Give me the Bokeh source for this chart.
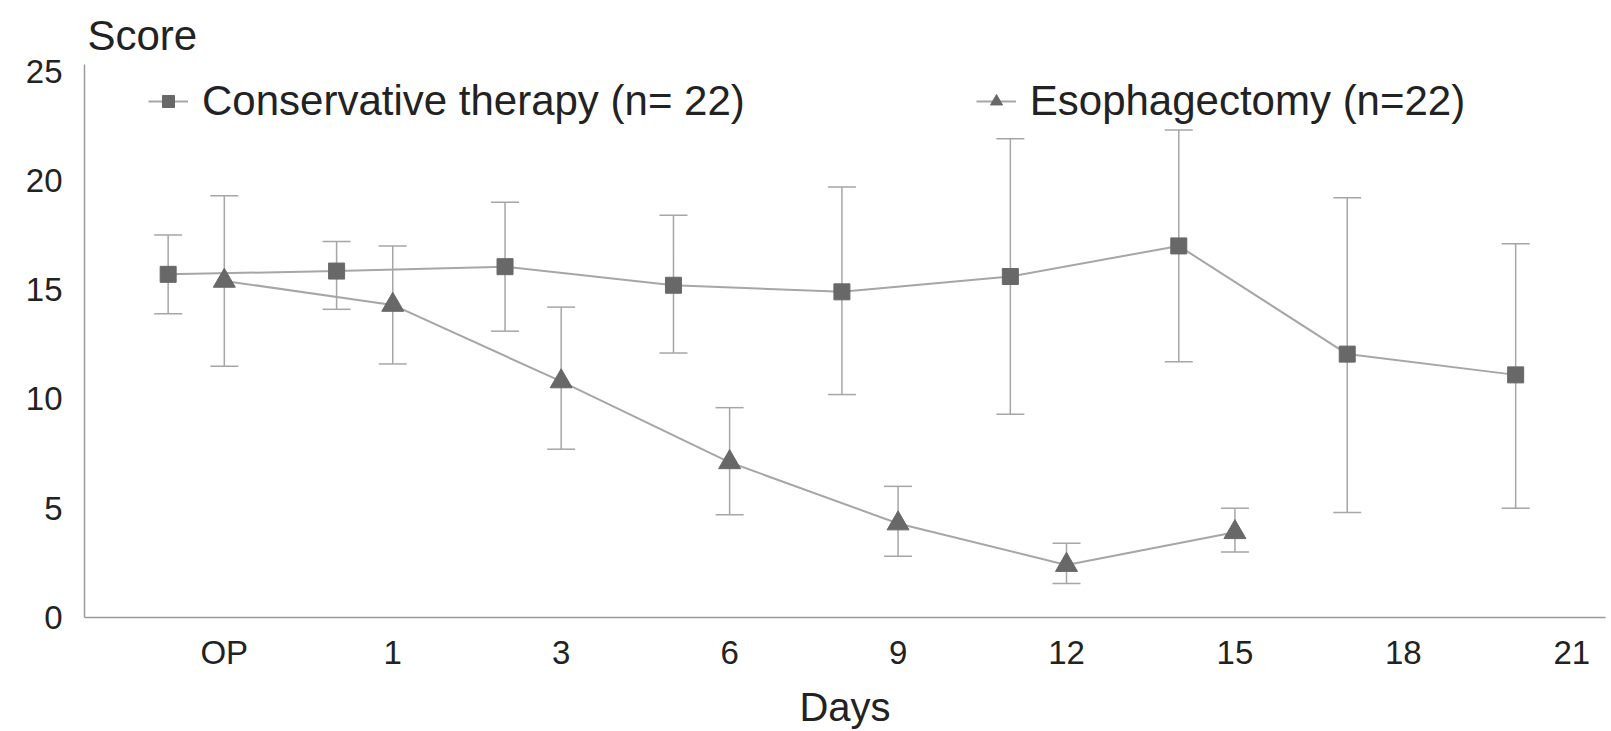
from bokeh.plotting import figure
from bokeh.models import (ColumnDataSource, Whisker, TeeHead, Legend, LegendItem,
                          FixedTicker, Title)
from bokeh.embed import file_html
from bokeh.resources import INLINE

# ---- data ----
tick_labels = ["OP", "1", "3", "6", "9", "12", "15", "18", "21"]
cons_mean = [15.7, 15.85, 16.05, 15.2, 14.9, 15.6, 17.0, 12.05, 11.1]
cons_upper = [17.5, 17.2, 19.0, 18.4, 19.7, 21.9, 22.3, 19.2, 17.1]
cons_lower = [13.9, 14.1, 13.1, 12.1, 10.2, 9.3, 11.7, 4.8, 5.0]
eso_mean = [15.4, 14.3, 10.8, 7.1, 4.3, 2.4, 3.9]
eso_upper = [19.3, 17.0, 14.2, 9.6, 6.0, 3.4, 5.0]
eso_lower = [11.5, 11.6, 7.7, 4.7, 2.8, 1.55, 3.0]
cons_name = "Conservative therapy (n= 22)"
eso_name = "Esophagectomy (n=22)"

FONT = "Liberation Sans"
TEXT = "#222222"
MARK = "#686868"
LINE = "#a6a6a6"

cons_x = [i - 1/3 for i in range(len(cons_mean))]
eso_x = [float(i) for i in range(len(eso_mean))]

cons_src = ColumnDataSource(dict(x=cons_x, y=cons_mean, up=cons_upper, lo=cons_lower))
eso_src = ColumnDataSource(dict(x=eso_x, y=eso_mean, up=eso_upper, lo=eso_lower))

p = figure(width=1608, height=731, x_range=(-0.83, 8.2), y_range=(0, 25.3),
           output_backend="svg", toolbar_location=None,
           min_border_left=84, min_border_right=3, min_border_top=64, min_border_bottom=114)
p.outline_line_color = None
p.grid.visible = False
p.background_fill_color = "white"
p.border_fill_color = "white"

for ax in (p.xaxis[0], p.yaxis[0]):
    ax.axis_line_color = "#9a9a9a"
    ax.axis_line_width = 1.5
    ax.major_tick_line_color = None
    ax.minor_tick_line_color = None
    ax.major_label_text_font = FONT
    ax.major_label_text_color = TEXT
    ax.major_label_text_font_size = "33px"
p.yaxis.major_label_standoff = 16
p.xaxis.major_label_standoff = 10

p.xaxis.ticker = FixedTicker(ticks=list(range(len(tick_labels))))
p.xaxis.major_label_overrides = {i: t for i, t in enumerate(tick_labels)}
p.yaxis.ticker = FixedTicker(ticks=[0, 5, 10, 15, 20, 25])
p.xaxis.axis_label = "Days"
p.xaxis.axis_label_text_font = FONT
p.xaxis.axis_label_text_font_style = "normal"
p.xaxis.axis_label_text_font_size = "40px"
p.xaxis.axis_label_text_color = TEXT
p.xaxis.axis_label_standoff = 11

p.add_layout(Title(text="Score", align="left", offset=3, text_font=FONT,
                   text_font_size="42px", text_font_style="normal",
                   vertical_align="top",
                   text_color=TEXT, standoff=8), "above")

# error bars
for src in (cons_src, eso_src):
    w = Whisker(source=src, base="x", upper="up", lower="lo", line_color=LINE, line_width=1.5,
                upper_head=TeeHead(size=28, line_color=LINE, line_width=1.5),
                lower_head=TeeHead(size=28, line_color=LINE, line_width=1.5))
    p.add_layout(w)

cl = p.line("x", "y", source=cons_src, line_color=LINE, line_width=2)
cm = p.scatter("x", "y", source=cons_src, marker="square", size=16,
               fill_color=MARK, line_color=MARK)
el = p.line("x", "y", source=eso_src, line_color=LINE, line_width=2)
em = p.scatter("x", "y", source=eso_src, marker="triangle", size=22,
               fill_color=MARK, line_color=MARK)

legend = Legend(items=[LegendItem(label=cons_name, renderers=[cl, cm]),
                       LegendItem(label=eso_name, renderers=[el, em])],
                orientation="horizontal", location=(64, 492),
                label_text_font=FONT, label_text_font_size="42px", label_text_color=TEXT,
                glyph_width=40, glyph_height=30, label_standoff=14, spacing=231,
                padding=0, margin=0, border_line_color=None, background_fill_alpha=0)
p.add_layout(legend)

open("out.html", "w").write(file_html(p, INLINE))
